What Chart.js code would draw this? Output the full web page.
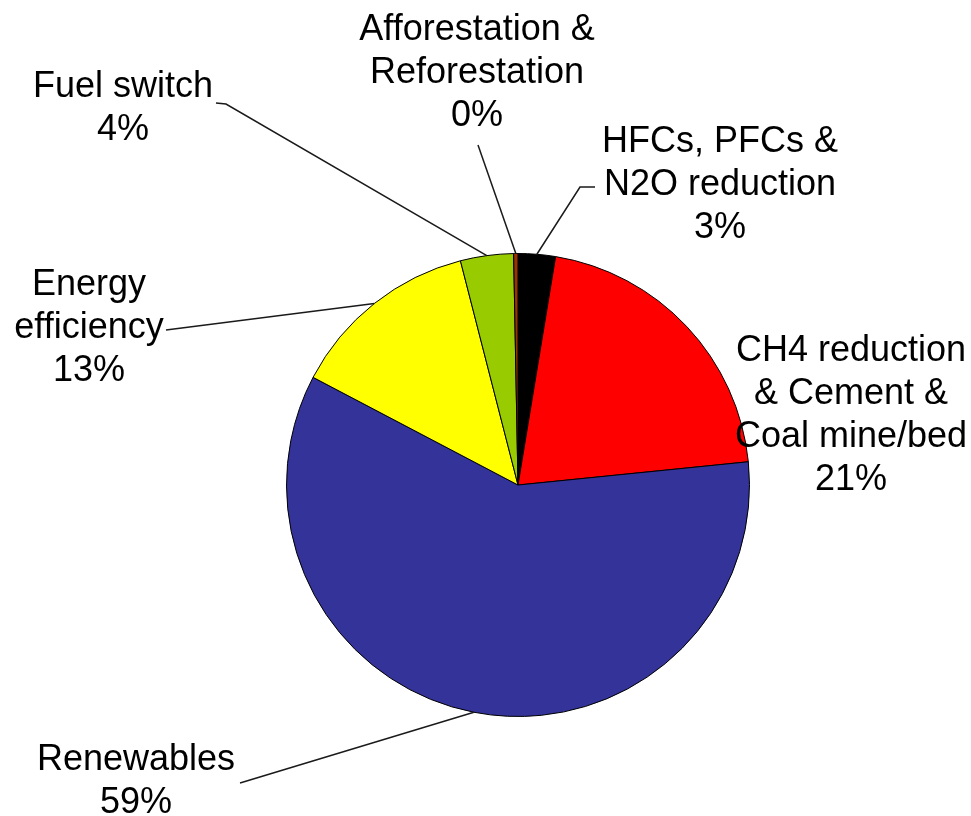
<!DOCTYPE html>
<html>
<head>
<meta charset="utf-8">
<script src="https://cdn.jsdelivr.net/npm/chart.js@4/dist/chart.umd.min.js"></script>
<style>
  body { margin: 0; background: #fff; }
  canvas { display: block; }
</style>
</head>
<body>
<canvas id="myChart" width="971" height="816"></canvas>
<script>
// categories in drawing order, clockwise from 12 o'clock
var categories = [
  ["HFCs, PFCs &", "N2O reduction"],
  ["CH4 reduction", "& Cement &", "Coal mine/bed"],
  ["Renewables"],
  ["Energy", "efficiency"],
  ["Fuel switch"],
  ["Afforestation &", "Reforestation"]
];
var shares = [2.6, 20.8, 59.3, 13.3, 3.7, 0.3]; // % of projects
var sliceColors = ["#000000", "#ff0000", "#333399", "#ffff00", "#99cc00", "#993300"];

// where each label sits (center x, first baseline) and where its leader line starts
var labelLayout = [
  { x: 720, y: 152, line: [[595, 187], [580, 187]] },
  { x: 851, y: 361, line: null },
  { x: 136, y: 770, line: [[240, 783]] },
  { x: 89,  y: 295, line: [[166, 330]] },
  { x: 123, y: 97,  line: [[216, 103], [226, 104]] },
  { x: 477, y: 40,  line: [[478, 145]] }
];

var lineHeight = 43;

var outsideLabels = {
  id: 'outsideLabels',
  afterDatasetsDraw: function(chart) {
    var ctx = chart.ctx;
    var meta = chart.getDatasetMeta(0);
    var data = chart.data.datasets[0].data;
    var total = data.reduce(function(a, b) { return a + b; }, 0);
    ctx.save();
    meta.data.forEach(function(arc, i) {
      var p = arc.getProps(['x', 'y', 'startAngle', 'endAngle', 'outerRadius'], true);
      var mid = (p.startAngle + p.endAngle) / 2;
      var ax = p.x + Math.cos(mid) * p.outerRadius;
      var ay = p.y + Math.sin(mid) * p.outerRadius;
      var lay = labelLayout[i];
      if (lay.line) {
        ctx.strokeStyle = '#1a1a1a';
        ctx.lineWidth = 1.5;
        ctx.beginPath();
        ctx.moveTo(lay.line[0][0], lay.line[0][1]);
        for (var k = 1; k < lay.line.length; k++) ctx.lineTo(lay.line[k][0], lay.line[k][1]);
        ctx.lineTo(ax, ay);
        ctx.stroke();
      }
      var lines = chart.data.labels[i].concat([Math.round(data[i] / total * 100) + '%']);
      ctx.fillStyle = '#000';
      ctx.font = '36px "Liberation Sans", Arial, sans-serif';
      ctx.textAlign = 'center';
      ctx.textBaseline = 'alphabetic';
      lines.forEach(function(t, j) {
        ctx.fillText(t, lay.x, lay.y + j * lineHeight);
      });
    });
    ctx.restore();
  }
};

var ctx = document.getElementById("myChart");
var myChart = new Chart(ctx, {
  type: 'pie',
  data: {
    labels: categories,
    datasets: [
      {
        data: shares,
        backgroundColor: sliceColors,
        borderColor: '#000000',
        borderWidth: 1
      }
    ]
  },
  options: {
    responsive: false,
    animation: false,
    layout: {
      padding: { left: 286, right: 221, top: 253, bottom: 99 }
    },
    plugins: {
      legend: { display: false },
      tooltip: { enabled: false }
    }
  },
  plugins: [outsideLabels]
});
</script>
</body>
</html>
